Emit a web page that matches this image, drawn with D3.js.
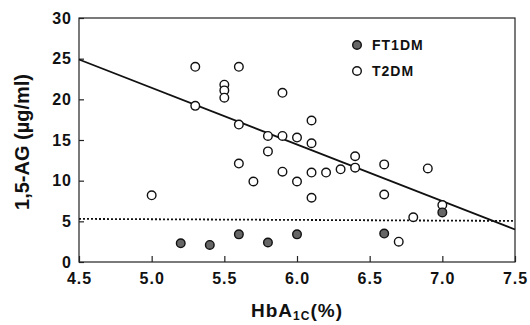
<!DOCTYPE html>
<html>
<head>
<meta charset="utf-8">
<script src="https://cdn.jsdelivr.net/npm/d3@7"></script>
<style>
  body { margin: 0; background: #fff; }
  svg { display: block; font-family: "Liberation Sans", Arial, sans-serif; font-weight: bold; }
</style>
</head>
<body>
<svg id="chart" width="530" height="325"></svg>
<script>
// HbA1c (%) vs 1,5-AG (ug/ml)
var t2dmX = [5.0, 5.3, 5.3, 5.5, 5.5, 5.5, 5.6, 5.6, 5.6, 5.7, 5.8, 5.8, 5.9, 5.9, 5.9, 6.0,
             6.0, 6.1, 6.1, 6.1, 6.1, 6.2, 6.3, 6.4, 6.4, 6.6, 6.6, 6.7, 6.8, 6.9, 7.0];
var t2dmY = [8.2, 24.0, 19.2, 21.8, 21.1, 20.2, 24.0, 16.9, 12.1, 9.9, 15.5, 13.6, 20.8, 15.5, 11.1, 15.3,
             9.9, 17.4, 14.6, 11.0, 7.9, 11.0, 11.4, 13.0, 11.6, 12.0, 8.3, 2.5, 5.5, 11.5, 7.0];
var ft1dmX = [5.2, 5.4, 5.6, 5.8, 6.0, 6.6, 7.0];
var ft1dmY = [2.3, 2.1, 3.4, 2.4, 3.4, 3.5, 6.1];

var regLine = [[4.5, 24.9], [7.5, 4.0]];
var cutoffLine = [[4.5, 5.3], [7.5, 5.05]];

var xTicks = [4.5, 5.0, 5.5, 6.0, 6.5, 7.0, 7.5];
var yTicks = [0, 5, 10, 15, 20, 25, 30];

var svg = d3.select('#chart');
var plotL = 79, plotR = 515, plotT = 18, plotB = 262;

var x = d3.scaleLinear().domain([4.5, 7.5]).range([plotL, plotR]);
var y = d3.scaleLinear().domain([0, 30]).range([plotB, plotT]);

// frame
svg.append('rect')
  .attr('x', plotL).attr('y', plotT)
  .attr('width', plotR - plotL).attr('height', plotB - plotT)
  .attr('fill', 'none').attr('stroke', '#222').attr('stroke-width', 1.2);

// axes with inward ticks
var xAxis = svg.append('g')
  .attr('transform', 'translate(0,' + plotB + ')')
  .call(d3.axisBottom(x).tickValues(xTicks).tickSizeInner(-6).tickSizeOuter(0)
        .tickPadding(11).tickFormat(d3.format('.1f')));
xAxis.select('.domain').remove();
xAxis.selectAll('line').attr('stroke', '#222').attr('stroke-width', 1.2);
xAxis.selectAll('text')
  .attr('fill', '#111').style('font-size', '16px').style('font-weight', 'bold')
  .style('font-family', '"Liberation Sans", Arial, sans-serif')
  .attr('letter-spacing', '1px');

var yAxis = svg.append('g')
  .attr('transform', 'translate(' + plotL + ',0)')
  .call(d3.axisLeft(y).tickValues(yTicks).tickSizeInner(-5).tickSizeOuter(0).tickPadding(7));
yAxis.select('.domain').remove();
yAxis.selectAll('line').attr('stroke', '#222').attr('stroke-width', 1.2);
yAxis.selectAll('text')
  .attr('fill', '#111').style('font-size', '16px').style('font-weight', 'bold')
  .style('font-family', '"Liberation Sans", Arial, sans-serif')
  .attr('letter-spacing', '1px');

var line = d3.line().x(d => x(d[0])).y(d => y(d[1]));

// dotted cutoff
svg.append('path')
  .datum(cutoffLine)
  .attr('d', line)
  .attr('fill', 'none').attr('stroke', '#111')
  .attr('stroke-width', 1.8).attr('stroke-dasharray', '2,2');

// regression line
svg.append('path')
  .datum(regLine)
  .attr('d', line)
  .attr('fill', 'none').attr('stroke', '#111').attr('stroke-width', 1.8);

// T2DM open circles
svg.append('g').selectAll('circle')
  .data(d3.zip(t2dmX, t2dmY))
  .join('circle')
  .attr('cx', d => x(d[0])).attr('cy', d => y(d[1])).attr('r', 4.3)
  .attr('fill', '#fff').attr('stroke', '#111').attr('stroke-width', 1.4);

// FT1DM filled circles
svg.append('g').selectAll('circle')
  .data(d3.zip(ft1dmX, ft1dmY))
  .join('circle')
  .attr('cx', d => x(d[0])).attr('cy', d => y(d[1])).attr('r', 4.3)
  .attr('fill', '#666').attr('stroke', '#111').attr('stroke-width', 1.4);

// legend
var legend = [
  {name: 'FT1DM', fill: '#666'},
  {name: 'T2DM', fill: '#fff'}
];
var lg = svg.append('g').selectAll('g')
  .data(legend)
  .join('g')
  .attr('transform', (d, i) => 'translate(357,' + (45 + i * 26) + ')');
lg.append('circle').attr('r', 4.3)
  .attr('fill', d => d.fill).attr('stroke', '#111').attr('stroke-width', 1.4);
lg.append('text').attr('x', 15).attr('dy', '0.36em')
  .attr('fill', '#111').style('font-size', '14px').attr('letter-spacing', '1px')
  .text(d => d.name);

// axis titles
var xt = svg.append('text')
  .attr('x', 251).attr('y', 317)
  .attr('fill', '#111').style('font-size', '19px').attr('letter-spacing', '1px');
xt.append('tspan').text('HbA');
xt.append('tspan').attr('dy', 3).style('font-size', '12px').text('1C');
xt.append('tspan').attr('dy', -3).text('(%)');

svg.append('text')
  .attr('transform', 'translate(29,' + 142 + ') rotate(-90)')
  .attr('text-anchor', 'middle').attr('fill', '#111').style('font-size', '20px')
  .text('1,5-AG (µg/ml)');
</script>
</body>
</html>
